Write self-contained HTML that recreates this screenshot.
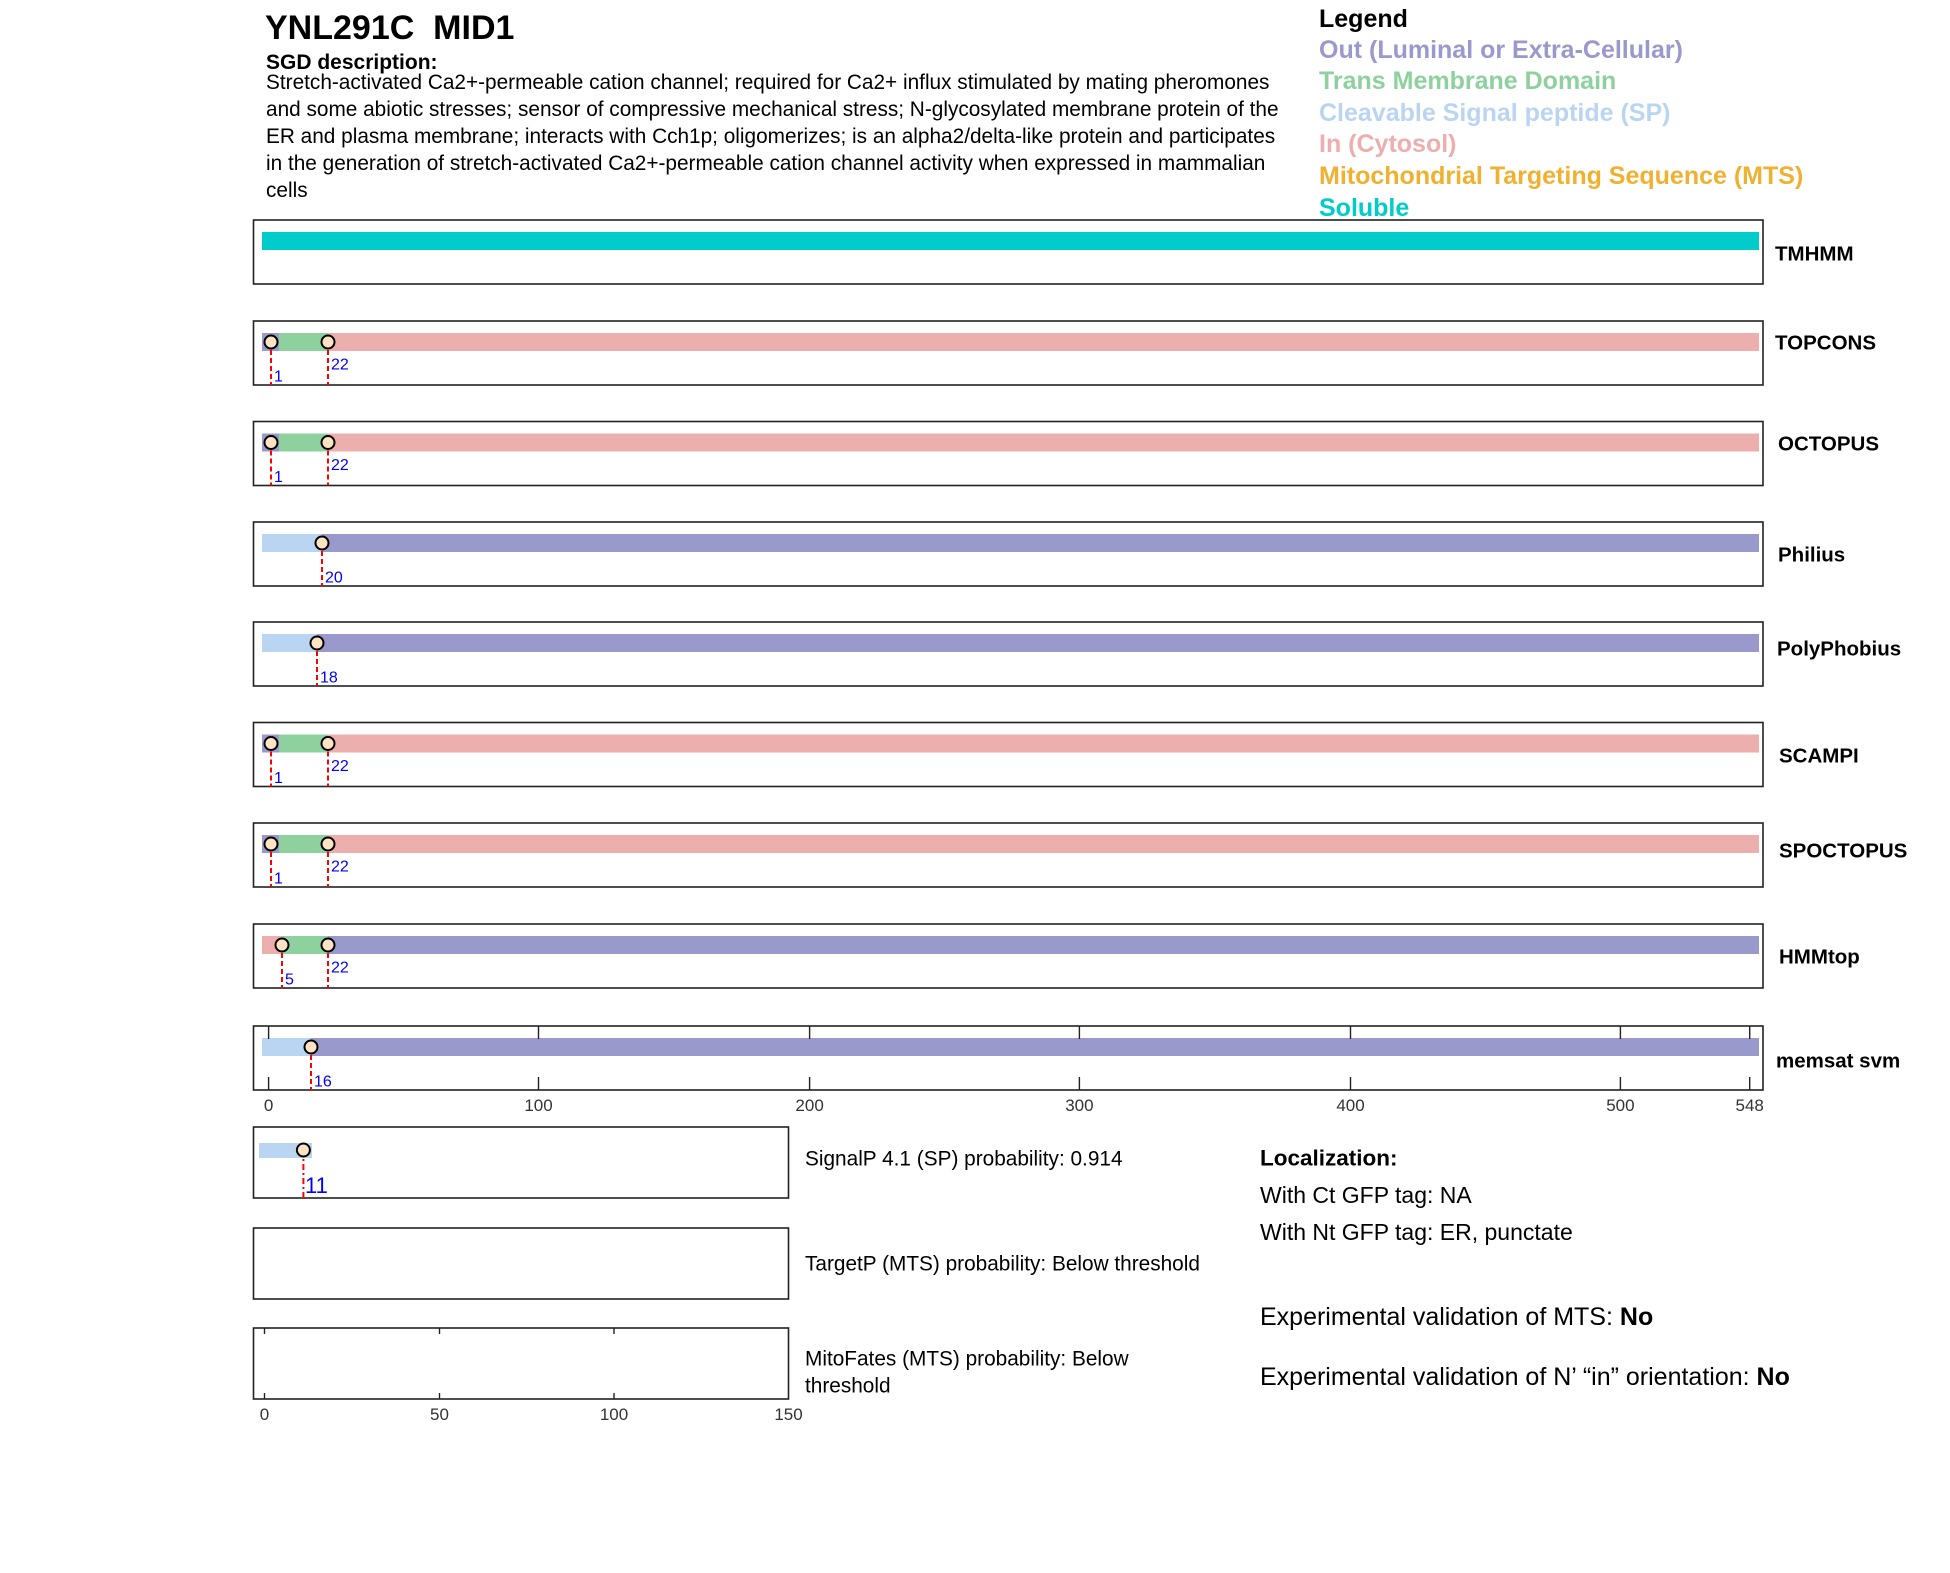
<!DOCTYPE html>
<html><head><meta charset="utf-8"><style>body{margin:0;background:#fff}svg{display:block}</style></head><body>
<svg width="1950" height="1573" viewBox="0 0 1950 1573" xmlns="http://www.w3.org/2000/svg" font-family="Liberation Sans, Arial, sans-serif">
<rect width="1950" height="1573" fill="#fff"/>
<text x="265" y="39" font-size="34" font-weight="bold">YNL291C&#160;&#160;MID1</text>
<text x="266" y="69" font-size="21" font-weight="bold">SGD description:</text>
<g font-size="20.8">
<text x="266" y="89">Stretch-activated Ca2+-permeable cation channel; required for Ca2+ influx stimulated by mating pheromones</text>
<text x="266" y="116">and some abiotic stresses; sensor of compressive mechanical stress; N-glycosylated membrane protein of the</text>
<text x="266" y="143">ER and plasma membrane; interacts with Cch1p; oligomerizes; is an alpha2/delta-like protein and participates</text>
<text x="266" y="170">in the generation of stretch-activated Ca2+-permeable cation channel activity when expressed in mammalian</text>
<text x="266" y="197">cells</text>
</g>
<g font-size="25" font-weight="bold" dominant-baseline="central">
<text x="1319" y="19" fill="#000">Legend</text>
<text x="1319" y="50" fill="#9999cc">Out (Luminal or Extra-Cellular)</text>
<text x="1319" y="81" fill="#8fd19e">Trans Membrane Domain</text>
<text x="1319" y="113" fill="#b9d5f2">Cleavable Signal peptide (SP)</text>
<text x="1319" y="144" fill="#edaeae">In (Cytosol)</text>
<text x="1319" y="176" fill="#f0b030">Mitochondrial Targeting Sequence (MTS)</text>
<text x="1319" y="208" fill="#00cccc">Soluble</text>
</g>
<g fill="none" stroke="#222" stroke-width="1.6">
<rect x="253.5" y="220" width="1509.5" height="64"/>
<rect x="253.5" y="321" width="1509.5" height="64"/>
<rect x="253.5" y="421.5" width="1509.5" height="64"/>
<rect x="253.5" y="522" width="1509.5" height="64"/>
<rect x="253.5" y="622" width="1509.5" height="64"/>
<rect x="253.5" y="722.5" width="1509.5" height="64"/>
<rect x="253.5" y="823" width="1509.5" height="64"/>
<rect x="253.5" y="924" width="1509.5" height="64"/>
<rect x="253.5" y="1026" width="1509.5" height="64"/>
</g>
<rect x="262" y="232" width="1497" height="18" fill="#00cccc"/>
<rect x="262" y="333" width="17" height="18" fill="#9999cc"/><rect x="279" y="333" width="49" height="18" fill="#8fd19e"/><rect x="328" y="333" width="1431" height="18" fill="#edaeae"/>
<rect x="262" y="433.5" width="17" height="18" fill="#9999cc"/><rect x="279" y="433.5" width="49" height="18" fill="#8fd19e"/><rect x="328" y="433.5" width="1431" height="18" fill="#edaeae"/>
<rect x="262" y="534" width="60" height="18" fill="#b9d5f2"/><rect x="322" y="534" width="1437" height="18" fill="#9999cc"/>
<rect x="262" y="634" width="55" height="18" fill="#b9d5f2"/><rect x="317" y="634" width="1442" height="18" fill="#9999cc"/>
<rect x="262" y="734.5" width="17" height="18" fill="#9999cc"/><rect x="279" y="734.5" width="49" height="18" fill="#8fd19e"/><rect x="328" y="734.5" width="1431" height="18" fill="#edaeae"/>
<rect x="262" y="835" width="17" height="18" fill="#9999cc"/><rect x="279" y="835" width="49" height="18" fill="#8fd19e"/><rect x="328" y="835" width="1431" height="18" fill="#edaeae"/>
<rect x="262" y="936" width="20" height="18" fill="#edaeae"/><rect x="282" y="936" width="46" height="18" fill="#8fd19e"/><rect x="328" y="936" width="1431" height="18" fill="#9999cc"/>
<rect x="262" y="1038" width="49" height="18" fill="#b9d5f2"/><rect x="311" y="1038" width="1448" height="18" fill="#9999cc"/>
<g stroke="#222" stroke-width="1.4">
<path d="M268.6 1026v13M538.5 1026v13M809.6 1026v13M1079.4 1026v13M1350.5 1026v13M1620.4 1026v13M1749.7 1026v13"/>
<path d="M268.6 1090v-13M538.5 1090v-13M809.6 1090v-13M1079.4 1090v-13M1350.5 1090v-13M1620.4 1090v-13M1749.7 1090v-13"/>
</g>
<g font-size="17" fill="#333" text-anchor="middle">
<text x="268.6" y="1111">0</text><text x="538.5" y="1111">100</text><text x="809.6" y="1111">200</text><text x="1079.4" y="1111">300</text><text x="1350.5" y="1111">400</text><text x="1620.4" y="1111">500</text><text x="1749.7" y="1111">548</text>
</g>
<g stroke="#f00" stroke-width="2" stroke-dasharray="5,3">
<path d="M271 342v43M328 342v43"/>
<path d="M271 442.5v43M328 442.5v43"/>
<path d="M322 543v43"/>
<path d="M317 643v43"/>
<path d="M271 743.5v43M328 743.5v43"/>
<path d="M271 844v43M328 844v43"/>
<path d="M282 945v43M328 945v43"/>
<path d="M311 1047v43"/>
</g>
<g fill="#fde2c4" stroke="#000" stroke-width="2">
<circle cx="271" cy="342" r="6.5"/><circle cx="328" cy="342" r="6.5"/>
<circle cx="271" cy="442.5" r="6.5"/><circle cx="328" cy="442.5" r="6.5"/>
<circle cx="322" cy="543" r="6.5"/>
<circle cx="317" cy="643" r="6.5"/>
<circle cx="271" cy="743.5" r="6.5"/><circle cx="328" cy="743.5" r="6.5"/>
<circle cx="271" cy="844" r="6.5"/><circle cx="328" cy="844" r="6.5"/>
<circle cx="282" cy="945" r="6.5"/><circle cx="328" cy="945" r="6.5"/>
<circle cx="311" cy="1047" r="6.5"/>
</g>
<g font-size="16" fill="#0000ff" dominant-baseline="central">
<text x="331" y="365">22</text><text x="274" y="377">1</text>
<text x="331" y="465.5">22</text><text x="274" y="477.5">1</text>
<text x="325" y="578">20</text>
<text x="320" y="678">18</text>
<text x="331" y="766.5">22</text><text x="274" y="778.5">1</text>
<text x="331" y="867">22</text><text x="274" y="879">1</text>
<text x="331" y="968">22</text><text x="285" y="980">5</text>
<text x="314" y="1082">16</text>
</g>
<g font-size="20.5" font-weight="bold" dominant-baseline="central">
<text x="1775" y="254">TMHMM</text>
<text x="1775" y="343">TOPCONS</text>
<text x="1778" y="444">OCTOPUS</text>
<text x="1778" y="555">Philius</text>
<text x="1777" y="649">PolyPhobius</text>
<text x="1779" y="756">SCAMPI</text>
<text x="1779" y="851">SPOCTOPUS</text>
<text x="1779" y="957">HMMtop</text>
<text x="1776" y="1061">memsat svm</text>
</g>
<g fill="none" stroke="#222" stroke-width="1.6">
<rect x="253.5" y="1127" width="535" height="71"/>
<rect x="253.5" y="1228" width="535" height="71"/>
<rect x="253.5" y="1328" width="535" height="71"/>
</g>
<rect x="259" y="1143" width="53" height="15" fill="#b9d5f2"/>
<path d="M303.4 1150v48" stroke="#f00" stroke-width="2" stroke-dasharray="6,3,2,3"/>
<circle cx="303.4" cy="1150" r="6.5" fill="#fde2c4" stroke="#000" stroke-width="2"/>
<text x="305" y="1193" font-size="22" fill="#0000ff">11</text>
<g stroke="#222" stroke-width="1.4">
<path d="M264.5 1328v6M439.5 1328v6M614 1328v6M264.5 1399v-6M439.5 1399v-6M614 1399v-6"/>
</g>
<g font-size="17" fill="#333" text-anchor="middle">
<text x="264.5" y="1420">0</text><text x="439.5" y="1420">50</text><text x="614" y="1420">100</text><text x="788.5" y="1420">150</text>
</g>
<g font-size="20.8" dominant-baseline="central">
<text x="805" y="1159">SignalP 4.1 (SP) probability: 0.914</text>
<text x="805" y="1264">TargetP (MTS) probability: Below threshold</text>
<text x="805" y="1359">MitoFates (MTS) probability: Below</text>
<text x="805" y="1386">threshold</text>
<text x="1260" y="1158" font-weight="bold" font-size="22.5">Localization:</text>
<text x="1260" y="1195" font-size="23">With Ct GFP tag: NA</text>
<text x="1260" y="1232" font-size="23">With Nt GFP tag: ER, punctate</text>
<text x="1260" y="1317" font-size="25">Experimental validation of MTS: <tspan font-weight="bold">No</tspan></text>
<text x="1260" y="1377" font-size="25">Experimental validation of N’ “in” orientation: <tspan font-weight="bold">No</tspan></text>
</g>
</svg>
</body></html>
